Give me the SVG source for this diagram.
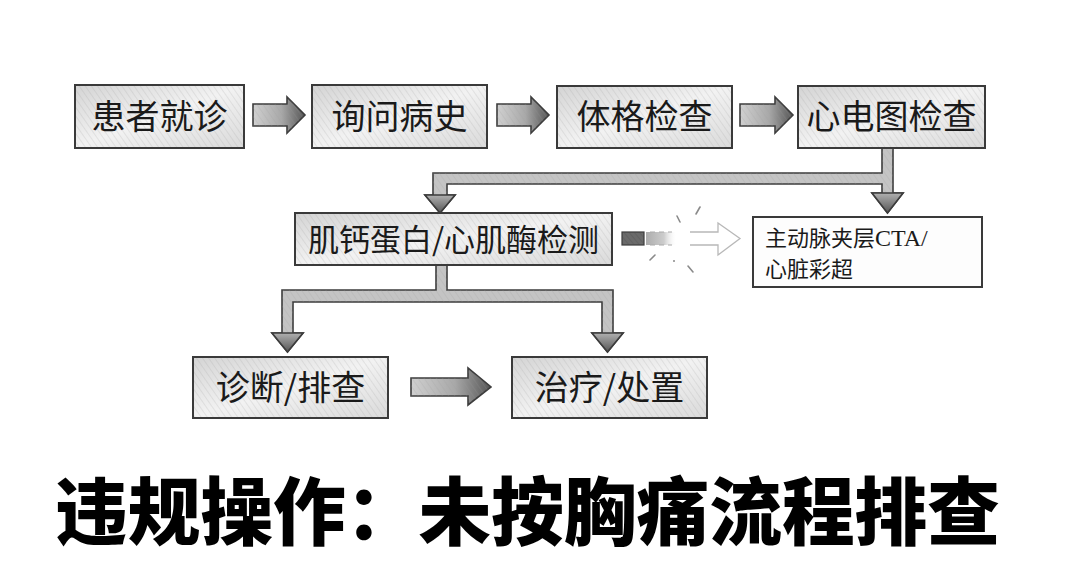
<svg xmlns="http://www.w3.org/2000/svg" width="1080" height="571" viewBox="0 0 1080 571">
<style>
.box{stroke:#3a3a3a;stroke-width:2;}
.hatch{fill:url(#hatch);stroke:none;}
.lbl{font-family:"Noto Sans CJK SC","Noto Sans",sans-serif;fill:#1a1a1a;text-anchor:middle;}
.arr{stroke:#3c3c3c;stroke-width:1.6;stroke-linejoin:miter;}
.title{font-family:"Noto Sans CJK SC","Noto Sans",sans-serif;font-weight:900;fill:#000;}
.spark{stroke:#8a8a8a;stroke-width:1.6;stroke-linecap:round;}
.small{font-family:"Noto Sans CJK SC",sans-serif;fill:#1a1a1a;}
</style>
<defs>
<pattern id="hatch" patternUnits="userSpaceOnUse" width="5" height="5" patternTransform="rotate(-35)">
<line x1="0" y1="0" x2="0" y2="5" stroke="#9a9a9a" stroke-width="0.7" opacity="0.55"/>
</pattern>
<pattern id="hatchDark" patternUnits="userSpaceOnUse" width="4" height="4" patternTransform="rotate(-40)">
<line x1="0" y1="0" x2="0" y2="4" stroke="#4a4a4a" stroke-width="0.9" opacity="0.6"/>
</pattern>
<linearGradient id="boxGrad" x1="0" y1="0" x2="1" y2="1">
<stop offset="0" stop-color="#d4d4d4"/>
<stop offset="0.5" stop-color="#f2f2f2"/>
<stop offset="1" stop-color="#dadada"/>
</linearGradient>
<linearGradient id="arrGrad" x1="0" y1="0" x2="1" y2="0">
<stop offset="0" stop-color="#d0d0d0"/>
<stop offset="0.55" stop-color="#a8a8a8"/>
<stop offset="1" stop-color="#555"/>
</linearGradient>
<linearGradient id="headGrad" x1="0" y1="0" x2="0" y2="1">
<stop offset="0" stop-color="#b0b0b0"/>
<stop offset="1" stop-color="#555"/>
</linearGradient>
<linearGradient id="brokenGrad" x1="0" y1="0" x2="1" y2="0">
<stop offset="0" stop-color="#5a5a5a"/>
<stop offset="0.6" stop-color="#9a9a9a"/>
<stop offset="1" stop-color="#eeeeee" stop-opacity="0"/>
</linearGradient>
</defs>
<rect width="1080" height="571" fill="#ffffff"/>

<g id="connectors">
<g id="a1"><path class="arr" fill="url(#arrGrad)" d="M253,104 H287 V97 L305,115 L287,133 V126 H253 Z"/><path class="hatch" d="M253,104 H287 V97 L305,115 L287,133 V126 H253 Z"/></g>
<g id="a2"><path class="arr" fill="url(#arrGrad)" d="M497,104 H531 V97 L549,115 L531,133 V126 H497 Z"/><path class="hatch" d="M497,104 H531 V97 L549,115 L531,133 V126 H497 Z"/></g>
<g id="a3"><path class="arr" fill="url(#arrGrad)" d="M740,104 H775 V97 L793,115 L775,133 V126 H740 Z"/><path class="hatch" d="M740,104 H775 V97 L793,115 L775,133 V126 H740 Z"/></g>
<g id="c1">
<path class="arr" fill="#c4c4c4" d="M882,148 V173 H433 V195 H425 L440,213 L455,195 H447 V184 H882 V193 H872 L887.5,213 L903,193 H893 V148 Z"/>
<path class="hatch" d="M882,148 V173 H433 V195 H425 L440,213 L455,195 H447 V184 H882 V193 H872 L887.5,213 L903,193 H893 V148 Z"/>
<path class="arr" fill="url(#headGrad)" d="M425,195 L440,213 L455,195 Z"/>
<path class="arr" fill="url(#headGrad)" d="M872,193 L887.5,213 L903,193 Z"/>
</g>
<g id="c2">
<rect x="622" y="232" width="22" height="13" fill="#6a6a6a" stroke="#3c3c3c" stroke-width="1.2"/>
<rect x="622" y="232" width="22" height="13" fill="url(#hatchDark)"/>
<rect x="646" y="232" width="30" height="13" fill="url(#brokenGrad)" opacity="0.5"/>
<line x1="650" y1="232" x2="672" y2="232" stroke="#aaa" stroke-width="1" stroke-dasharray="5,4"/>
<line x1="650" y1="245" x2="672" y2="245" stroke="#aaa" stroke-width="1" stroke-dasharray="5,4"/>
<path d="M690,232 H718 V223 L740,238.5 L718,255 V245 H690" fill="#ffffff" stroke="#b8b8b8" stroke-width="1.3"/>
<line class="spark" x1="677" y1="216" x2="680" y2="222"/>
<line class="spark" x1="700" y1="207" x2="696" y2="214"/>
<line class="spark" x1="650" y1="260" x2="655" y2="255"/>
<line class="spark" x1="688" y1="266" x2="693" y2="272"/>
<circle cx="674" cy="261" r="1" fill="#8a8a8a"/>
</g>
<g id="c3">
<path class="arr" fill="#c4c4c4" d="M436,265 V290 H282 V333 H272 L287.5,352 L303,333 H293 V302 H602 V333 H592 L607.5,352 L623,333 H613 V290 H447 V265 Z"/>
<path class="hatch" d="M436,265 V290 H282 V333 H272 L287.5,352 L303,333 H293 V302 H602 V333 H592 L607.5,352 L623,333 H613 V290 H447 V265 Z"/>
<path class="arr" fill="url(#headGrad)" d="M272,333 L287.5,352 L303,333 Z"/>
<path class="arr" fill="url(#headGrad)" d="M592,333 L607.5,352 L623,333 Z"/>
</g>
<g id="a4"><path class="arr" fill="url(#arrGrad)" d="M411,378 H468 V368 L491,387 L468,405 V396 H411 Z"/><path class="hatch" d="M411,378 H468 V368 L491,387 L468,405 V396 H411 Z"/></g>
</g>

<g id="n1">
<rect class="box" x="75" y="85" width="169" height="63" fill="url(#boxGrad)"/>
<rect class="hatch" x="76" y="86" width="167" height="61"/>
<text class="lbl" x="159.5" y="129" font-size="34">患者就诊</text>
</g>
<g id="n2">
<rect class="box" x="312" y="85" width="175" height="63" fill="url(#boxGrad)"/>
<rect class="hatch" x="313" y="86" width="173" height="61"/>
<text class="lbl" x="399.5" y="129" font-size="34">询问病史</text>
</g>
<g id="n3">
<rect class="box" x="557" y="86" width="175" height="62" fill="url(#boxGrad)"/>
<rect class="hatch" x="558" y="87" width="173" height="60"/>
<text class="lbl" x="644.5" y="129" font-size="34">体格检查</text>
</g>
<g id="n4">
<rect class="box" x="798" y="86" width="187" height="62" fill="url(#boxGrad)"/>
<rect class="hatch" x="799" y="87" width="185" height="60"/>
<text class="lbl" x="891.5" y="129" font-size="34">心电图检查</text>
</g>
<g id="n5">
<rect class="box" x="295" y="213" width="317" height="52" fill="url(#boxGrad)"/>
<rect class="hatch" x="296" y="214" width="315" height="50"/>
<text class="lbl" x="453.5" y="251" font-size="31">肌钙蛋白/心肌酶检测</text>
</g>
<g id="n6">
<rect class="box" x="753" y="217" width="229" height="70" fill="#fdfdfd" stroke-width="1.6"/>
<text class="small" x="765" y="246" font-size="22">主动脉夹层<tspan font-family="Liberation Serif,serif" font-size="24">CTA/</tspan></text>
<text class="small" x="765" y="277" font-size="22">心脏彩超</text>
</g>
<g id="n7">
<rect class="box" x="193" y="357" width="195" height="61" fill="url(#boxGrad)"/>
<rect class="hatch" x="194" y="358" width="193" height="59"/>
<text class="lbl" x="290.5" y="400" font-size="34">诊断/排查</text>
</g>
<g id="n8">
<rect class="box" x="512" y="357" width="195" height="61" fill="url(#boxGrad)"/>
<rect class="hatch" x="513" y="358" width="193" height="59"/>
<text class="lbl" x="609.5" y="400" font-size="34">治疗/处置</text>
</g>

<text class="title" x="55" y="539" font-size="74" textLength="945" lengthAdjust="spacingAndGlyphs">违规操作：未按胸痛流程排查</text>
</svg>
